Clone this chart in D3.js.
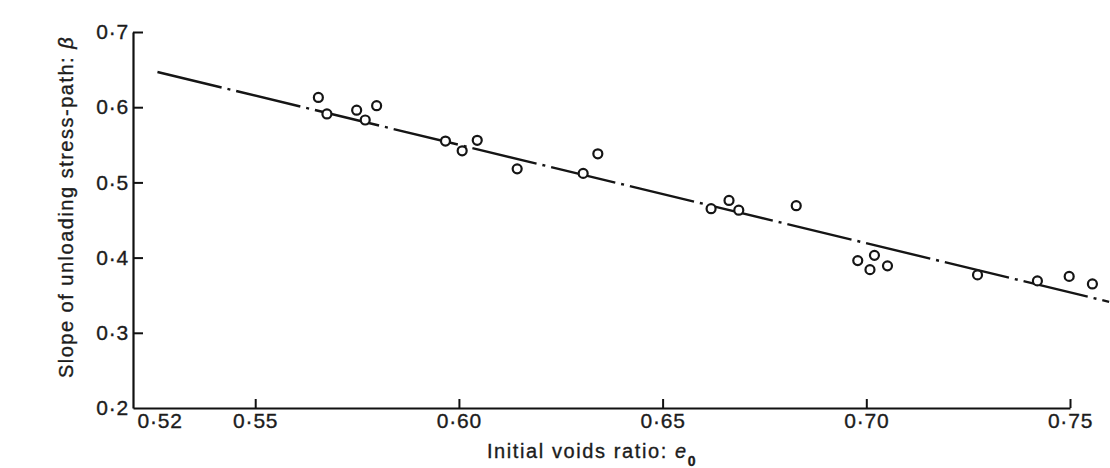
<!DOCTYPE html>
<html>
<head>
<meta charset="utf-8">
<script src="https://cdn.jsdelivr.net/npm/d3@7"></script>
<style>
  body { margin: 0; background: #fff; }
  svg { display: block; }
  text { font-family: "Liberation Sans", Arial, Helvetica, sans-serif; fill: #1c1c1c;
         stroke: #1c1c1c; stroke-width: 0.35px; }
</style>
</head>
<body>
<svg id="chart" width="1110" height="468"></svg>
<script>
// Measured samples: initial voids ratio e0 vs slope of unloading stress path beta
const voidsRatio = [
  0.5655, 0.5676, 0.5749, 0.5770, 0.5798,
  0.5967, 0.6008, 0.6045, 0.6143,
  0.6305, 0.6341,
  0.6619, 0.6663, 0.6687, 0.6828,
  0.6979, 0.7020, 0.7009, 0.7052,
  0.7273, 0.7420, 0.7498, 0.7555
];
const stressPathSlope = [
  0.613, 0.591, 0.596, 0.583, 0.602,
  0.555, 0.542, 0.556, 0.518,
  0.512, 0.538,
  0.465, 0.476, 0.463, 0.469,
  0.396, 0.403, 0.384, 0.389,
  0.377, 0.369, 0.375, 0.365
];

// Straight-line fit through the samples (end points)
const fitVoidsRatio = [0.526, 0.7596];
const fitSlope = [0.6468, 0.3412];

const xTicks = [0.52, 0.55, 0.60, 0.65, 0.70, 0.75];
const yTicks = [0.2, 0.3, 0.4, 0.5, 0.6, 0.7];

const xTitle = "Initial voids ratio: ";
const xSymbol = "e";
const xSubscript = "0";
const yTitle = "Slope of unloading stress-path: ";
const ySymbol = "β";

const svg = d3.select("#chart");

const x = d3.scaleLinear().domain([0.52, 0.75]).range([133, 1070]);
const y = d3.scaleLinear().domain([0.2, 0.7]).range([408, 32]);

const fmt = digits => d => d.toFixed(digits).replace(".", "·");

// x axis
const gx = svg.append("g")
  .attr("transform", "translate(0,408)")
  .call(d3.axisBottom(x)
    .tickValues(xTicks)
    .tickSize(-9)
    .tickSizeOuter(0)
    .tickPadding(5)
    .tickFormat(fmt(2)));

// y axis
const gy = svg.append("g")
  .attr("transform", "translate(133,0)")
  .call(d3.axisLeft(y)
    .tickValues(yTicks)
    .tickSize(-10)
    .tickSizeOuter(0)
    .tickPadding(4)
    .tickFormat(fmt(1)));

[gx, gy].forEach(g => {
  g.select(".domain").attr("stroke", "#111").attr("stroke-width", 2.2);
  g.selectAll(".tick line").attr("stroke", "#111").attr("stroke-width", 2);
  g.selectAll(".tick text")
    .attr("fill", "#1c1c1c")
    .style("font-size", "21px")
    .style("letter-spacing", "0.8px");
});

// first x label sits just right of the corner
gx.selectAll(".tick text")
  .filter(d => d === xTicks[0])
  .attr("text-anchor", "start")
  .attr("x", 4);
gx.selectAll(".tick line").filter(d => d === xTicks[0]).remove();
gy.selectAll(".tick line").filter(d => d === yTicks[0]).remove();

// fitted line, dash-dot
const fitPoints = fitVoidsRatio.map((e, i) => [e, fitSlope[i]]);
svg.append("path")
  .datum(fitPoints)
  .attr("fill", "none")
  .attr("stroke", "#151515")
  .attr("stroke-width", 2.4)
  .attr("stroke-dasharray", "66 6 3 6")
  .attr("d", d3.line().x(d => x(d[0])).y(d => y(d[1])));

// sample markers
const samples = voidsRatio.map((e, i) => ({ e, b: stressPathSlope[i] }));
svg.append("g")
  .selectAll("circle")
  .data(samples)
  .join("circle")
  .attr("cx", d => x(d.e))
  .attr("cy", d => y(d.b))
  .attr("r", 4.5)
  .attr("fill", "#fff")
  .attr("stroke", "#151515")
  .attr("stroke-width", 2.2);

// axis titles
const xt = svg.append("text")
  .attr("x", 592)
  .attr("y", 458)
  .attr("text-anchor", "middle")
  .style("font-size", "20px")
  .style("letter-spacing", "1.6px");
xt.append("tspan").text(xTitle);
xt.append("tspan").style("font-style", "italic").text(xSymbol);
xt.append("tspan")
  .attr("dy", 8)
  .style("font-size", "14px")
  .style("font-weight", "bold")
  .text(xSubscript);

const yt = svg.append("text")
  .attr("transform", "translate(73,207) rotate(-90)")
  .attr("text-anchor", "middle")
  .style("font-size", "20px")
  .style("letter-spacing", "1.5px");
yt.append("tspan").text(yTitle);
yt.append("tspan").style("font-style", "italic").text(ySymbol);
</script>
</body>
</html>
